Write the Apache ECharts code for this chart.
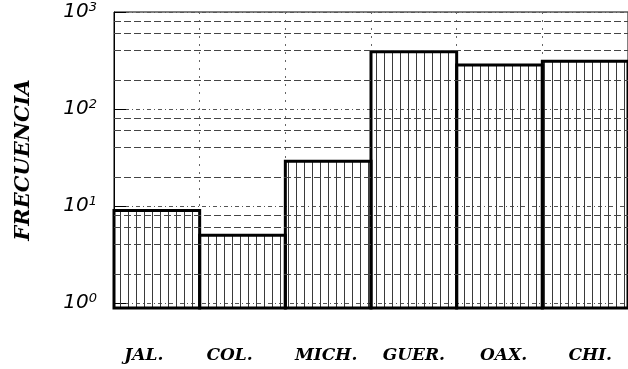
<!DOCTYPE html>
<html>
<head>
<meta charset="utf-8">
<script src="https://cdn.jsdelivr.net/npm/echarts@6/dist/echarts.min.js"></script>
<style>
  html, body { margin: 0; padding: 0; background: #fff; }
  #chart { width: 628px; height: 369px; }
</style>
</head>
<body>
<div id="chart"></div>
<script>
// datos
const estados = ['JAL.', 'COL.', 'MICH.', 'GUER.', 'OAX.', 'CHI.'];
const frecuencias = [9, 5, 29, 390, 285, 310];
const lineasMenores = [2, 4, 6, 8, 20, 40, 60, 80, 200, 400, 600, 800];
const yMin = 0.89;
const yMax = 1000;
// desplazamiento horizontal de cada etiqueta (px)
const despEtiqueta = [-13, -13, -2, 0, 4, 5];

// patron de rayado vertical
const makeHatch = () => {
  const c = document.createElement('canvas');
  c.width = 8;
  c.height = 8;
  const ctx = c.getContext('2d');
  ctx.fillStyle = '#3a3a3a';
  ctx.fillRect(0, 0, 1, 8);
  return c;
};
const hatch = { image: makeHatch(), repeat: 'repeat' };

const chart = echarts.init(document.getElementById('chart'));

const isPow10 = v => {
  const l = Math.log10(v);
  return Math.abs(l - Math.round(l)) < 1e-6;
};

const serifBI = { fontFamily: 'DejaVu Serif', fontStyle: 'italic', fontWeight: 'bold', color: '#000' };

const richX = {};
despEtiqueta.forEach((d, i) => {
  richX['l' + i] = {
    ...serifBI, fontSize: 17,
    padding: d < 0 ? [0, -2 * d, 0, 0] : [0, 0, 0, 2 * d]
  };
});

const renderBar = (params, api) => {
  const top = api.coord([api.value(0), api.value(1)]);
  const base = api.coord([api.value(0), yMin]);
  const w = api.size([1, 0])[0];
  return {
    type: 'rect',
    shape: { x: top[0] - w / 2, y: top[1], width: w, height: base[1] - top[1] },
    style: { fill: hatch, stroke: '#000', lineWidth: 3 }
  };
};

chart.setOption({
  animation: false,
  grid: {
    left: 114, top: 12, right: 0, bottom: 61,
    show: true, borderColor: '#000', borderWidth: 1, backgroundColor: 'transparent'
  },
  xAxis: {
    type: 'category',
    data: estados,
    axisLine: { show: true, lineStyle: { color: '#000', width: 2 } },
    axisTick: { show: false },
    axisLabel: {
      margin: 39,
      formatter: (v, i) => '{l' + i + '|' + v + '}',
      rich: richX
    },
    splitLine: { show: true, lineStyle: { color: '#666', type: [2, 6], width: 1 } }
  },
  yAxis: {
    type: 'log',
    logBase: 10,
    min: yMin,
    max: yMax,
    name: 'FRECUENCIA',
    nameLocation: 'middle',
    nameRotate: 90,
    nameGap: 80,
    nameTextStyle: { fontSize: 21, ...serifBI },
    axisLine: { show: true, lineStyle: { color: '#000', width: 1 } },
    axisTick: { show: true, inside: true, length: 12, lineStyle: { color: '#000', width: 1 } },
    axisLabel: {
      margin: 17,
      formatter: v => isPow10(v) ? '{b|10}{s|' + Math.round(Math.log10(v)) + '}' : '',
      rich: {
        b: { fontFamily: 'DejaVu Sans', fontStyle: 'italic', fontSize: 20, color: '#000' },
        s: { fontFamily: 'DejaVu Sans', fontStyle: 'italic', fontSize: 13, color: '#000', verticalAlign: 'top', padding: [0, 0, 9, 0] }
      }
    },
    splitLine: { show: true, lineStyle: { color: '#555', type: [4, 3, 1, 3], width: 1 } }
  },
  series: [
    {
      type: 'custom',
      renderItem: renderBar,
      data: frecuencias.map((v, i) => [i, v]),
      encode: { x: 0, y: 1 },
      z: 2
    },
    {
      type: 'line',
      data: [],
      z: 3,
      markLine: {
        silent: true,
        symbol: 'none',
        label: { show: false },
        lineStyle: { color: '#444', type: [7, 3], width: 1 },
        data: lineasMenores.map(v => ({ yAxis: v }))
      }
    }
  ]
});
</script>
</body>
</html>
